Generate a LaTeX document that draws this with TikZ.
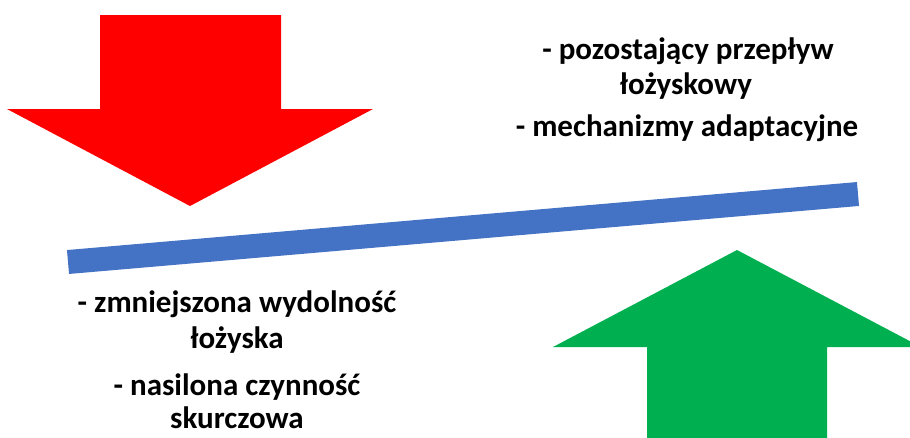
\documentclass[tikz,border=0pt]{standalone}
\usepackage{fontspec}
\setmainfont{Carlito}
\usepackage{tikz}
\usetikzlibrary{calc,positioning}
\definecolor{downred}{HTML}{FF0000}
\definecolor{upgreen}{HTML}{00B050}
\definecolor{beamblue}{HTML}{4472C4}
\tikzset{
scales/.style={x=1pt,y=-1pt},
label text/.style={anchor=base,inner sep=0pt,font=\fontsize{31}{33}\selectfont\bfseries},
beam/.style={line width=24pt,color=beamblue,line cap=butt},
}

\begin{document}
\begin{tikzpicture}[scales]
    \useasboundingbox (0,0) rectangle (910,437);
    \clip (0,0) rectangle (910,437);

    % red arrow, pushing down
    \fill[downred] (100,15) -- (281,15) -- (281,109) -- (373,109)
        -- (190,206) -- (7,109) -- (100,109) -- cycle;

    % green arrow, pushing up
    \fill[upgreen] (647,440) -- (647,347) -- (553,347) -- (737,250)
        -- (921,347) -- (827,347) -- (827,440) -- cycle;

    % the beam
    \coordinate (left) at (68,262);
    \coordinate (right) at (858,194);
    \draw[beam] (left) -- (right);

    \node[label text] (t1) at (688,59) {- pozostający przepływ};
    \node[label text] (t2) at (686,94) {łożyskowy};
    \node[label text] (t3) at (687,136) {- mechanizmy adaptacyjne};

    \node[label text] (b1) at (237,312) {- zmniejszona wydolność};
    \node[label text] (b2) at (237,348) {łożyska};
    \node[label text] (b3) at (237,395) {- nasilona czynność};
    \node[label text] (b4) at (237,428) {skurczowa};
\end{tikzpicture}
\end{document}
